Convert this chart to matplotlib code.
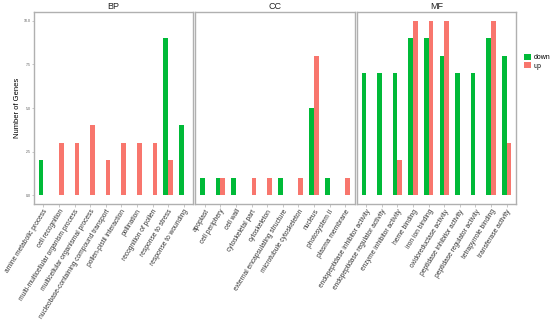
import matplotlib
matplotlib.use("Agg")
import matplotlib.pyplot as plt
import numpy as np

plt.rcParams['font.family'] = ['Liberation Sans', 'DejaVu Sans']

# GO terms per ontology
bp_terms = ["amine metabolic process", "cell recognition", "multi-multicellular organism process",
            "multicellular organismal process", "nucleobase-containing compound transport",
            "pollen-pistil interaction", "pollination", "recognition of pollen",
            "response to stress", "response to wounding"]
bp_down = [2, 0, 0, 0, 0, 0, 0, 0, 9, 4]
bp_up = [0, 3, 3, 4, 2, 3, 3, 3, 2, 0]

cc_terms = ["apoplast", "cell periphery", "cell wall", "cytoskeletal part", "cytoskeleton",
            "external encapsulating structure", "microtubule cytoskeleton", "nucleus",
            "photosystem II", "plasma membrane"]
cc_down = [1, 1, 1, 0, 0, 1, 0, 5, 1, 0]
cc_up = [0, 1, 0, 1, 1, 0, 1, 8, 0, 1]

mf_terms = ["endopeptidase inhibitor activity", "endopeptidase regulator activity",
            "enzyme inhibitor activity", "heme binding", "iron ion binding",
            "oxidoreductase activity", "peptidase inhibitor activity",
            "peptidase regulator activity", "tetrapyrrole binding", "transferase activity"]
mf_down = [7, 7, 7, 9, 9, 8, 7, 7, 9, 8]
mf_up = [0, 0, 2, 10, 10, 10, 0, 0, 10, 3]

panels = [("BP", bp_terms, bp_down, bp_up),
          ("CC", cc_terms, cc_down, cc_up),
          ("MF", mf_terms, mf_down, mf_up)]

green = "#00BA38"
red = "#F8766D"
edge = "#B0B0B0"

fig = plt.figure(figsize=(5.5, 3.28), dpi=100)
gs = fig.add_gridspec(1, 3, left=34/550, right=516/550, top=1-12/328, bottom=1-204/328, wspace=0.015)

bw = 0.3
for i, (name, terms, down, up) in enumerate(panels):
    ax = fig.add_subplot(gs[0, i])
    x = np.arange(len(terms))
    ax.bar(x - bw/2, down, width=bw, color=green, label="down")
    ax.bar(x + bw/2, up, width=bw, color=red, label="up")
    ax.set_xlim(-0.6, len(terms) - 0.4)
    ax.set_ylim(-0.5, 10.5)
    ax.set_xticks(x)
    ax.set_xticklabels(terms, rotation=58, ha='right', va='top', rotation_mode='anchor',
                       fontsize=4.75, color="#333333")
    ax.tick_params(axis='x', length=2, width=0.5, color=edge, pad=1)
    ax.set_title(name, fontsize=6.5, pad=2, color="#222222")
    for s in ax.spines.values():
        s.set_color(edge)
        s.set_linewidth(1.0)
    if i == 0:
        ax.set_yticks([0, 2.5, 5, 7.5, 10])
        ax.set_yticklabels(["0.0", "2.5", "5.0", "7.5", "10.0"], fontsize=2.5, color="#555555")
        ax.tick_params(axis='y', length=1.5, width=0.5, color=edge, pad=1)
        ax.set_ylabel("Number of Genes", fontsize=5.5, labelpad=2)
    else:
        ax.set_yticks([])
    if i == 2:
        ax.legend(loc='upper left', bbox_to_anchor=(1.03, 0.8), frameon=False, fontsize=5,
                  handlelength=1.0, handleheight=1.0, handletextpad=0.3, labelspacing=0.1,
                  borderpad=0)

fig.savefig("out.png", dpi=100)
